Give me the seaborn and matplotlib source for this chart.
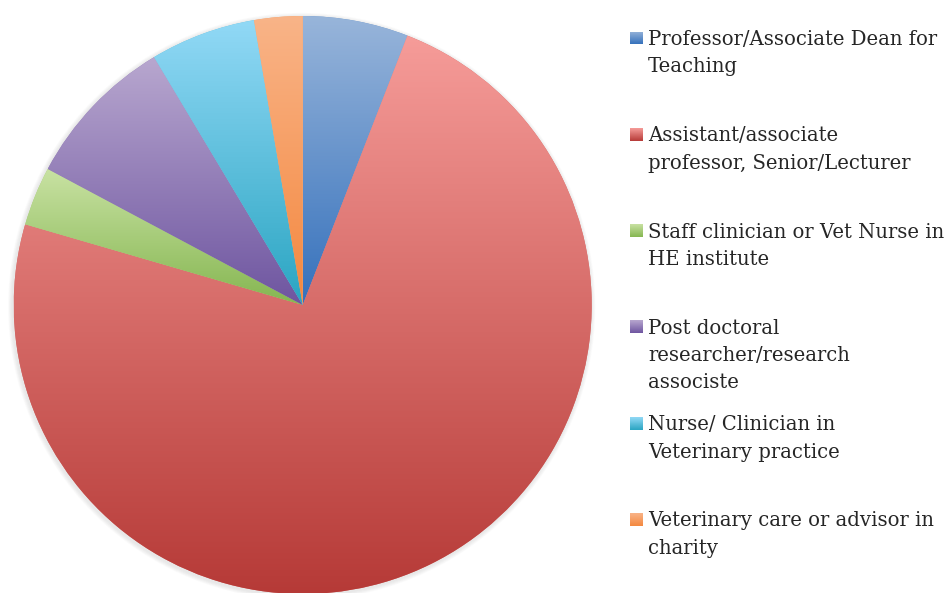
# Pie chart of respondent roles (Excel-style gradient slices)

import numpy as np
import matplotlib
matplotlib.use("Agg")
import matplotlib.pyplot as plt
import seaborn as sns

categories = [
    "Professor/Associate Dean for\nTeaching",
    "Assistant/associate\nprofessor, Senior/Lecturer",
    "Staff clinician or Vet Nurse in\nHE institute",
    "Post doctoral\nresearcher/research\nassociste",
    "Nurse/ Clinician in\nVeterinary practice",
    "Veterinary care or advisor in\ncharity",
]
values = [5.9, 73.6, 3.3, 8.6, 5.9, 2.7]

# light (top) and dark (bottom) end of each slice's gradient
top_colors = ["#98B5DA", "#F69C99", "#C9E2A3", "#B8A7CF", "#92D9F6", "#F9B488"]
bottom_colors = ["#3571BC", "#B63A37", "#85B651", "#6E55A0", "#2AA5C2", "#F4883F"]

sns.set_theme(style="white")
plt.rcParams["font.family"] = ["DejaVu Serif"]

W, H = 948, 593
fig = plt.figure(figsize=(W / 100, H / 100), dpi=100)
ax = fig.add_axes([0, 0, 1, 1])

cx, cy, r = 302.7, H - 305, 289

# faint shadow around the pie
for k in range(5):
    ax.add_patch(plt.Circle((cx - 1, cy - 1.5), r + 1 + k * 0.9, color="#808080",
                            alpha=0.035, lw=0, zorder=0))

wedges, _ = ax.pie(values, startangle=90, counterclock=False, center=(cx, cy),
                   radius=r, wedgeprops=dict(linewidth=0), frame=True)

grad = np.linspace(0, 1, 256).reshape(-1, 1)
cmaps = [sns.blend_palette([t, b], n_colors=256, as_cmap=True)
         for t, b in zip(top_colors, bottom_colors)]

for w, cmap in zip(wedges, cmaps):
    bb = w.get_path().get_extents()
    w.set_facecolor(cmap(0.5))
    w.set_zorder(1)
    im = ax.imshow(grad, cmap=cmap, extent=[bb.x0, bb.x1, bb.y0, bb.y1],
                   origin="upper", aspect="auto", interpolation="bicubic", zorder=2)
    im.set_clip_path(w)

ax.set_xlim(0, W)
ax.set_ylim(0, H)
ax.set_aspect("equal")
ax.axis("off")

# legend: gradient square + wrapped label
for i, (label, cmap) in enumerate(zip(categories, cmaps)):
    base = 45 + i * 96.3
    sq = fig.add_axes([630 / W, 1 - (base - 0.5) / H, 13 / W, 13 / H])
    sq.imshow(grad, cmap=cmap, aspect="auto", interpolation="bicubic")
    sq.axis("off")
    for j, line in enumerate(label.split("\n")):
        fig.text(648 / W, 1 - (base + j * 27.3) / H, line, fontsize=14.1,
                 color="#262626", va="baseline", ha="left")

fig.savefig("out.png", dpi=100)
